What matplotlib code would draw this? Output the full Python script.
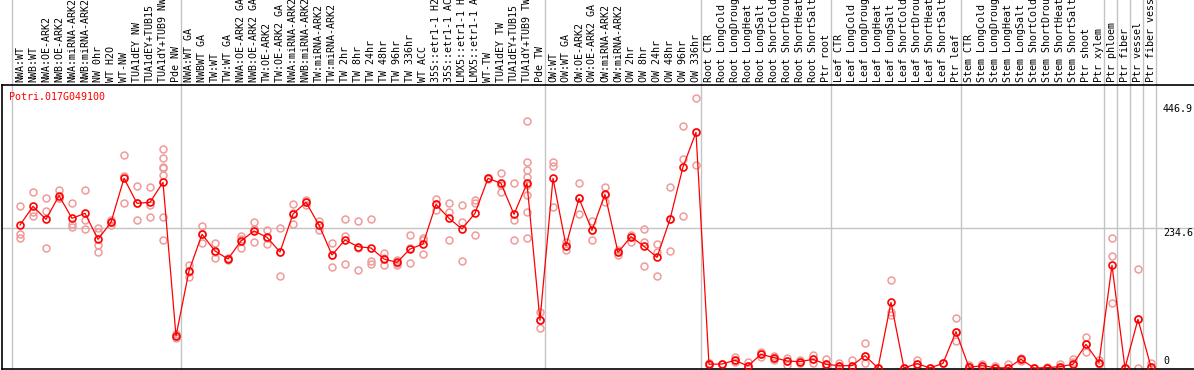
"""Expression profile of Potri.017G049100 across samples."""
import numpy as np
import matplotlib.pyplot as plt

# --- Sample labels (grouped) ---
labels = [
    # NW group
    "NWA:WT", "NWB:WT", "NWA:OE-ARK2", "NWB:OE-ARK2", "NWA:miRNA-ARK2",
    "NWB:miRNA-ARK2", "NW 0hr", "WT H2O", "WT-NW", "TUA1dEY NW",
    "TUA1dEY+TUB15", "TUA1dY+TUB9 NW", "Pde NW",
    # TW group
    "NWA:WT GA", "NWBWT GA", "TW:WT", "TW:WT GA", "NWA:OE-ARK2 GA",
    "NWB:OE-ARK2 GA", "TW:OE-ARK2", "TW:OE-ARK2 GA", "NWA:miRNA-ARK2 GA",
    "NWB:miRNA-ARK2 GA", "TW:miRNA-ARK2", "TW:miRNA-ARK2 GA", "TW 2hr",
    "TW 8hr", "TW 24hr", "TW 48hr", "TW 96hr", "TW 336hr", "WT ACC",
    "35S::etr1-1 H2O", "35S::etr1-1 ACC", "LMX5::etr1-1 H2O",
    "LMX5::etr1-1 ACC", "WT-TW", "TUA1dEY TW", "TUA1dEY+TUB15",
    "TUA1dY+TUB9 TW", "Pde TW",
    # OW group
    "OW:WT", "OW:WT GA", "OW:OE-ARK2", "OW:OE-ARK2 GA", "OW:miRNA-ARK2",
    "OW:miRNA-ARK2", "OW 2hr", "OW 8hr", "OW 24hr", "OW 48hr", "OW 96hr",
    "OW 336hr",
    # Root
    "Root CTR", "Root LongCold", "Root LongDrought", "Root LongHeat",
    "Root LongSalt", "Root ShortCold", "Root ShortDrought", "Root ShortHeat",
    "Root ShortSalt", "Ptr root",
    # Leaf
    "Leaf CTR", "Leaf LongCold", "Leaf LongDrought", "Leaf LongHeat",
    "Leaf LongSalt", "Leaf ShortCold", "Leaf ShortDrought", "Leaf ShortHeat",
    "Leaf ShortSalt", "Ptr leaf",
    # Stem
    "Stem CTR", "Stem LongCold", "Stem LongDrought", "Stem LongHeat",
    "Stem LongSalt", "Stem ShortCold", "Stem ShortDrought", "Stem ShortHeat",
    "Stem ShortSalt", "Ptr shoot", "Ptr xylem",
    # single tissues
    "Ptr phloem", "Ptr fiber", "Ptr vessel", "Ptr fiber vessel",
]
group_sizes = [13, 28, 12, 10, 10, 11, 1, 1, 1, 1]

# --- Mean expression per sample ---
means = [
    240.1, 271.5, 249.6, 289.4, 251.3, 259.7, 216.1, 244.6, 318.5, 276.5,
    278.2, 311.8, 53.7,
    162.9, 224.5, 196.5, 183.0, 213.3, 230.1, 219.4, 194.8, 258.6, 278.2,
    240.1, 189.8, 214.9, 203.7, 201.5, 183.0, 177.4, 199.8, 208.2, 274.8,
    251.3, 233.4, 259.7, 318.5, 310.1, 258.0, 310.1, 80.0,
    318.5, 205.4, 284.9, 231.2, 291.6, 194.2, 220.5, 204.3, 185.8, 249.6,
    337.5, 395.7,
    6.2, 6.7, 12.9, 3.4, 23.0, 17.4, 11.8, 10.6, 14.6, 6.2,
    3.9, 3.9, 20.7, 0.0, 110.3, 0.0, 7.3, 0.0, 7.8, 61.0,
    1.1, 3.9, 0.6, 0.0, 14.6, 0.0, 0.6, 2.2, 6.2, 39.7, 9.0,
    172.4, 0.0, 81.7, 1.7,
]

# --- Replicate values per sample ---
replicates = [
    [272.6, 224.5, 217.8], [295.0, 262.5, 255.8], [284.9, 263.7, 201.0],
    [298.4, 284.9, 284.9], [276.5, 241.3, 237.4], [298.4, 248.0, 232.9],
    [234.6, 229.0, 206.6, 195.4], [248.6, 245.8, 240.2],
    [357.7, 323.0, 276.5], [305.7, 276.5, 248.0], [304.0, 273.7, 253.0],
    [367.8, 352.1, 338.1, 335.3, 324.1, 253.0, 215.0], [56.5, 54.3, 50.9],
    [173.0, 161.8, 153.4], [238.5, 224.5, 209.4], [209.4, 195.4, 185.3],
    [185.3, 183.1, 180.8], [221.7, 202.1, 216.1], [244.6, 212.2, 233.4],
    [231.8, 207.7, 218.9], [234.6, 154.5, 195.4], [274.9, 241.3, 259.7],
    [282.1, 279.3, 273.7], [246.9, 231.8, 240.2], [209.4, 169.1, 189.8],
    [249.7, 222.2, 174.1], [246.9, 164.6, 201.0], [249.7, 179.7, 174.1],
    [192.6, 173.0, 184.2], [175.8, 173.0, 181.4], [222.8, 175.8, 201.0],
    [218.9, 190.9, 215.0], [283.8, 265.3, 274.9], [276.5, 261.4, 215.0],
    [273.7, 244.6, 179.7], [282.1, 276.5, 223.4], [319.6, 317.4, 318.5],
    [326.9, 296.1, 307.3], [310.1, 248.6, 215.0],
    [414.8, 346.5, 332.5, 321.3, 307.3, 290.5, 261.4, 217.8],
    [94.6, 80.0, 66.6],
    [345.4, 339.8, 269.8], [212.2, 198.2, 205.4], [310.1, 258.1, 286.1],
    [246.9, 215.0, 231.8], [304.5, 279.3, 290.5], [198.2, 189.8, 195.4],
    [223.4, 212.2, 220.5], [233.4, 212.2, 171.3], [207.7, 195.4, 154.5],
    [303.4, 196.5, 249.6], [407.0, 351.0, 255.3], [452.9, 340.9, 395.7],
    [7.8, 6.2, 4.5], [6.7, 7.3, 6.2], [19.0, 12.9, 10.6], [9.5, 3.4, 0.6],
    [27.4, 23.0, 19.0], [20.7, 17.4, 13.4], [17.4, 11.8, 5.0],
    [13.4, 10.6, 7.8], [21.8, 14.6, 7.8], [15.1, 6.2, 2.2],
    [7.8, 3.9, 0.6], [13.4, 3.9, 0.0], [41.4, 20.7, 7.8], [0.0, 0.0, 0.0],
    [147.2, 94.7, 89.0], [0.0, 0.0, 0.0], [13.4, 7.3, 2.2], [0.0, 0.0, 0.5],
    [7.8, 7.8, 7.8], [83.4, 61.0, 45.3],
    [5.0, 1.1, 0.0], [6.2, 3.9, 1.7], [3.9, 0.6, 0.0], [6.2, 0.0, 0.0],
    [16.2, 14.6, 11.8], [0.0, 0.0, 0.0], [2.2, 0.6, 0.0], [6.2, 2.2, 0.0],
    [15.1, 9.5, 6.2], [52.6, 39.7, 27.4], [13.4, 9.0, 6.2],
    [217.8, 187.5, 108.6], [0.0, 0.0, 0.0], [165.7, 81.7, 0.0],
    [7.8, 1.7, 0.0],
]

gene = "Potri.017G049100"
ytick_vals = [446.9, 234.6, 0]

# --- Figure layout in pixels (1194 x 370 at 100 dpi) ---
W, H, DPI = 1194, 370, 100
fig = plt.figure(figsize=(W / DPI, H / DPI), dpi=DPI)
ax_left, ax_top, ax_bottom = 2, 85, 369
ax = fig.add_axes([ax_left / W, (H - ax_bottom) / H,
                   (W - ax_left) / W, (ax_bottom - ax_top) / H])

mono = "DejaVu Sans Mono"
red = "#ff0000"
pink = "#f09a9a"
grey = "#c4c4c4"

x = np.arange(len(labels))
ax.set_xlim(-1.385, 90.31)
ax.set_ylim(-1.7, 475.2)

# group separators (extend up into the label band)
ends = np.cumsum(group_sizes) - 1
seps = np.concatenate([[-0.65], ends + 0.35])
for s in seps:
    ax.axvline(s, ymin=0, ymax=1 + ax_top / (ax_bottom - ax_top),
               color=grey, lw=1.0, clip_on=False, zorder=1)
ax.axhline(234.6, color=grey, lw=1.0, zorder=1)

# replicates
for i, vals in enumerate(replicates):
    ax.plot([x[i]] * len(vals), vals, linestyle="none", marker="o",
            markersize=5, markerfacecolor="none", markeredgecolor=pink,
            markeredgewidth=1.1, zorder=2)

# mean profile
ax.plot(x, means, color=red, lw=0.9, marker="o", markersize=5,
        markerfacecolor="none", markeredgecolor=red, markeredgewidth=1.2,
        zorder=3)

# frame
for side in ["top", "left", "bottom"]:
    ax.spines[side].set_color("black")
    ax.spines[side].set_linewidth(1.2)
ax.spines["right"].set_visible(False)
ax.set_xticks([])
ax.set_yticks([])

# sample labels above the frame
for i, lab in enumerate(labels):
    ax.annotate(lab, xy=(x[i], 1), xycoords=ax.get_xaxis_transform(),
                xytext=(0, 3), textcoords="offset pixels", rotation=90,
                ha="center", va="bottom", fontsize=7.2, family=mono,
                annotation_clip=False)

# gene name
ax.annotate(gene, xy=(0, 1), xycoords="axes fraction", xytext=(7, -12),
            textcoords="offset pixels", ha="left", va="center",
            fontsize=7.2, family=mono, color=red)

# value labels on the right
offsets = {446.9: -2, 234.6: 0, 0: 2}
for v in ytick_vals:
    ax.annotate(f"{v:g}", xy=(0.974, v), xycoords=ax.get_yaxis_transform(),
                xytext=(0, offsets[v]), textcoords="offset pixels",
                ha="left", va="top" if v else "bottom", fontsize=7.2,
                family=mono)

fig.savefig("out.png", dpi=DPI)
